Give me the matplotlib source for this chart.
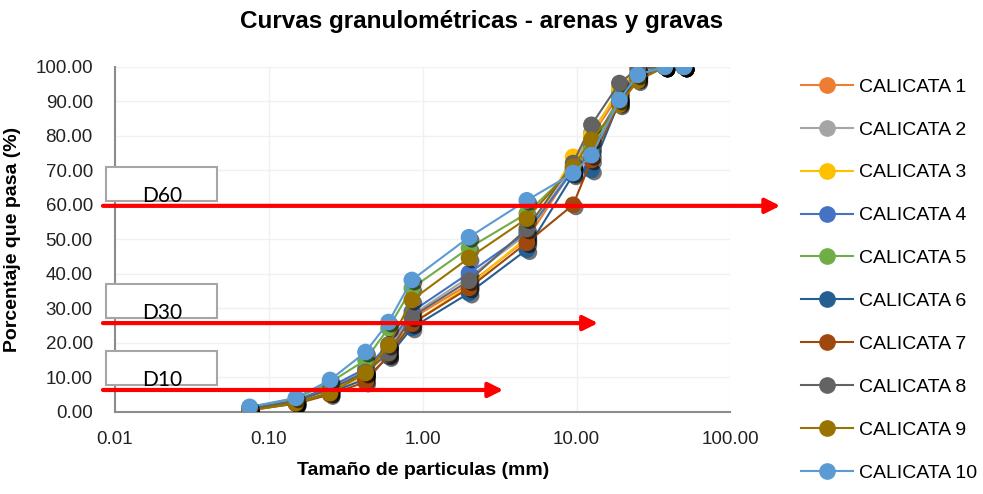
import matplotlib
matplotlib.use("Agg")
import matplotlib.pyplot as plt
import matplotlib.patheffects as pe
from matplotlib import font_manager
from matplotlib.lines import Line2D
from matplotlib.patches import Rectangle
from matplotlib.ticker import FixedLocator, FuncFormatter

# Tamices (mm) y porcentaje que pasa para cada calicata
tamices = [0.075, 0.15, 0.25, 0.425, 0.6, 0.85, 2.0, 4.75, 9.5, 12.5, 19.0, 25.0, 37.5, 50.0]

calicata_1 = [0.8, 3.0, 6.5, 11.0, 18.5, 27.0, 37.0, 50.0, 70.5, 80.0, 92.0, 98.0, 100, 100]
calicata_2 = [0.9, 3.2, 7.0, 12.0, 19.0, 28.0, 39.0, 51.5, 71.0, 81.0, 93.0, 99.0, 100, 100]
calicata_3 = [0.7, 2.8, 6.0, 10.5, 17.5, 25.5, 36.5, 50.5, 73.9, 80.0, 94.0, 99.5, 100, 100]
calicata_4 = [1.0, 3.3, 7.2, 12.5, 19.5, 29.0, 40.2, 52.0, 70.0, 77.0, 91.0, 98.0, 100, 100]
calicata_5 = [1.3, 3.8, 8.5, 15.0, 24.3, 35.8, 47.5, 57.5, 70.5, 76.0, 91.0, 97.5, 100, 100]
calicata_6 = [0.6, 2.5, 5.5, 9.5, 16.0, 24.3, 34.4, 47.0, 68.7, 70.1, 90.0, 97.0, 100, 100]
calicata_7 = [0.5, 2.3, 5.0, 8.6, 16.5, 25.5, 35.9, 49.0, 60.0, 73.0, 89.5, 96.5, 100, 100]
calicata_8 = [0.9, 3.0, 6.5, 11.5, 17.0, 27.5, 38.0, 53.0, 72.1, 83.2, 95.3, 99.5, 100, 100]
calicata_9 = [0.3, 2.5, 5.4, 11.2, 19.3, 32.4, 44.6, 56.0, 71.0, 78.8, 89.0, 96.0, 100, 100]
calicata_10 = [1.4, 4.0, 9.2, 17.3, 26.0, 38.2, 50.6, 61.3, 69.2, 74.4, 90.4, 97.7, 100, 100]

series = [calicata_1, calicata_2, calicata_3, calicata_4, calicata_5,
          calicata_6, calicata_7, calicata_8, calicata_9, calicata_10]
nombres = ["CALICATA %d" % (i + 1) for i in range(10)]
colores = ["#ED7D31", "#A5A5A5", "#FFC000", "#4472C4", "#70AD47",
           "#255E91", "#9E480E", "#636363", "#997300", "#5B9BD5"]

# Lineas de referencia D60, D30, D10 (valor en %, fin de la flecha en mm)
d_etiquetas = ["D60", "D30", "D10"]
d_valores = [59.7, 25.7, 6.3]
d_fin_flecha = [211.0, 13.8, 3.34]

x_ticks = [0.01, 0.1, 1, 10, 100]
y_ticks = list(range(0, 101, 10))

nombres_fuentes = {f.name for f in font_manager.fontManager.ttflist}
fuente = "Liberation Sans Narrow" if "Liberation Sans Narrow" in nombres_fuentes else "Liberation Sans"
plt.rcParams["font.family"] = [fuente, "DejaVu Sans"]

fig = plt.figure(figsize=(9.83, 4.94), dpi=100)
ax = fig.add_axes([0.117, 0.1666, 0.626, 0.698])

sombra = [pe.SimplePatchShadow(offset=(2, -2), shadow_rgbFace="black", alpha=0.55), pe.Normal()]

for i, (valores, color) in enumerate(zip(series, colores)):
    ax.plot(tamices, valores, color=color, lw=1.5, zorder=3 + 2 * i)
    ax.plot(tamices, valores, "o", color=color, markersize=11, markeredgecolor=color,
            zorder=4 + 2 * i, path_effects=sombra)

ax.set_xscale("log")
ax.set_xlim(0.01, 100)
ax.set_ylim(0, 100)
ax.xaxis.set_major_locator(FixedLocator(x_ticks))
ax.xaxis.set_minor_locator(FixedLocator([]))
ax.yaxis.set_major_locator(FixedLocator(y_ticks))
ax.xaxis.set_major_formatter(FuncFormatter(lambda v, p: "%.2f" % v))
ax.yaxis.set_major_formatter(FuncFormatter(lambda v, p: "%.2f" % v))
ax.tick_params(axis="both", length=0, labelsize=13.5, colors="#222222")
ax.tick_params(axis="y", pad=16)
ax.tick_params(axis="x", pad=14)
ax.grid(True, color="#F0F0F0", lw=1)
ax.set_axisbelow(True)

for lado in ["top", "right"]:
    ax.spines[lado].set_visible(False)
for lado in ["left", "bottom"]:
    ax.spines[lado].set_color("#8C8C8C")
    ax.spines[lado].set_linewidth(1.5)

ax.set_xlabel("Tamaño de particulas (mm)", fontsize=14, fontweight="bold", labelpad=10)
ax.set_ylabel("Porcentaje que pasa (%)", fontsize=14, fontweight="bold", labelpad=10)
fig.suptitle("Curvas granulométricas - arenas y gravas", fontsize=17.5, fontweight="bold",
             x=0.49, y=0.98)

# Cajas y flechas
for etiqueta, valor, fin in zip(d_etiquetas, d_valores, d_fin_flecha):
    caja = Rectangle((0.00874, valor + 1.4), 0.046 - 0.00874, 9.9, facecolor="white",
                     edgecolor="#A6A6A6", lw=1.5, clip_on=False, zorder=30)
    ax.add_patch(caja)
    ax.text(0.0202, valor + 3.0, etiqueta, fontsize=15, family=["Lato", "DejaVu Sans"],
            ha="center", va="center", zorder=31, clip_on=False)
    ax.annotate("", xy=(fin, valor), xytext=(0.00835, valor), annotation_clip=False,
                arrowprops=dict(arrowstyle="-|>", color="red", lw=3, mutation_scale=22,
                                shrinkA=0, shrinkB=0), zorder=32)

manejadores = [Line2D([0], [0], color=c, lw=1.5, marker="o", markersize=11,
                      markeredgecolor=c) for c in colores]
fig.legend(manejadores, nombres, loc="upper left", bbox_to_anchor=(0.815, 0.842),
           frameon=False, fontsize=14, handlelength=2.65, handletextpad=0.3,
           labelspacing=1.3, borderpad=0, borderaxespad=0)

fig.savefig("out.png", dpi=100)
